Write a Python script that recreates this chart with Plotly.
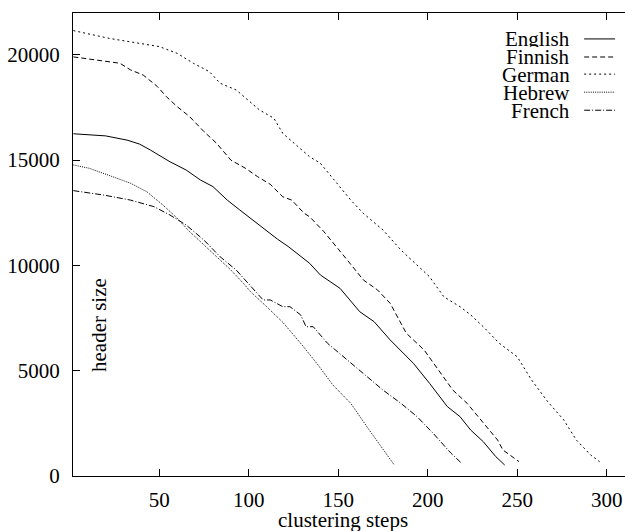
import plotly.graph_objects as go

# ---- data ----
english_x = [2, 20, 32, 39, 45, 56, 65, 73, 80, 88, 95, 101, 108, 116, 122, 127, 134, 140, 151, 162, 170, 179, 192, 201, 211, 218, 224, 231, 238, 243]
english_y = [16250, 16150, 15950, 15760, 15480, 14920, 14530, 14055, 13740, 13100, 12630, 12240, 11760, 11250, 10900, 10575, 10100, 9545, 8910, 7800, 7330, 6460, 5350, 4400, 3290, 2820, 2180, 1630, 920, 520]

finnish_x = [2, 28, 34, 41, 49, 54, 60, 67, 75, 82, 90, 98, 105, 112, 119, 124, 131, 134, 142, 149, 155, 164, 172, 179, 188, 198, 207, 214, 222, 231, 239, 242, 251]
finnish_y = [19900, 19600, 19280, 19040, 18490, 18010, 17540, 17060, 16350, 15800, 15000, 14620, 14210, 13850, 13260, 13100, 12470, 12310, 11600, 10890, 10260, 9310, 8830, 8200, 6780, 5980, 4880, 4080, 3450, 2500, 1710, 1235, 680]

german_x = [2, 22, 50, 60, 69, 78, 84, 93, 106, 114, 119, 129, 134, 140, 157, 164, 175, 185, 194, 201, 209, 218, 224, 231, 240, 250, 258, 267, 276, 283, 291, 296]
german_y = [21150, 20780, 20390, 20070, 19600, 19200, 18650, 18330, 17380, 16990, 16270, 15560, 15160, 14850, 13100, 12470, 11680, 10730, 10020, 9460, 8510, 8040, 7650, 7090, 6300, 5660, 4560, 3530, 2660, 1710, 1000, 680]

hebrew_x = [2, 11, 24, 34, 43, 52, 60, 67, 75, 82, 90, 97, 101, 110, 119, 129, 138, 147, 157, 166, 175, 181]
hebrew_y = [14770, 14610, 14210, 13900, 13500, 12870, 12240, 11600, 10970, 10410, 9780, 9150, 8750, 8040, 7300, 6300, 5350, 4320, 3450, 2340, 1235, 555]

french_x = [2, 19, 34, 47, 56, 65, 75, 84, 93, 101, 108, 112, 119, 123, 129, 132, 136, 144, 153, 164, 175, 185, 194, 203, 213, 219]
french_y = [13550, 13340, 13100, 12790, 12390, 11920, 11200, 10410, 9780, 9030, 8360, 8360, 8040, 8040, 7650, 7090, 7090, 6300, 5660, 4880, 4080, 3450, 2820, 2030, 1080, 600]

series_names = ["English", "Finnish", "German", "Hebrew", "French"]
x_ticks = [50, 100, 150, 200, 250, 300]
y_ticks = [0, 5000, 10000, 15000, 20000]

# ---- styles ----
dashes = ["solid", "5px,3px", "2px,3px", "1px,1.2px", "6px,2px,1px,2px"]
FONT = "Liberation Serif"
FS = 21

series = [(english_x, english_y), (finnish_x, finnish_y), (german_x, german_y),
          (hebrew_x, hebrew_y), (french_x, french_y)]

fig = go.Figure()
for (xs, ys), name, dash in zip(series, series_names, dashes):
    fig.add_trace(go.Scatter(x=xs, y=ys, mode="lines", name=name,
                             line=dict(color="black", width=1, dash=dash),
                             showlegend=False))

# manual gnuplot-style legend (text right-aligned, sample on the right)
row_y = [0.944, 0.905, 0.868, 0.829, 0.790]
annotations = []
shapes = []
for name, dash, yy in zip(series_names, dashes, row_y):
    annotations.append(dict(x=0.904, y=yy, xref="paper", yref="paper", text=name,
                            showarrow=False, xanchor="right", yanchor="middle", height=17,
                            font=dict(family=FONT, size=FS, color="black")))
    shapes.append(dict(type="line", xref="paper", yref="paper", x0=0.926, x1=0.982,
                       y0=yy, y1=yy, line=dict(color="black", width=1, dash=dash)))

annotations.append(dict(x=0.49, y=-0.095, xref="paper", yref="paper", text="clustering steps",
                        showarrow=False, xanchor="center", yanchor="middle",
                        font=dict(family=FONT, size=FS, color="black")))
annotations.append(dict(x=0.047, y=0.326, xref="paper", yref="paper", text="header size",
                        showarrow=False, xanchor="center", yanchor="middle", textangle=-90,
                        font=dict(family=FONT, size=FS, color="black")))

fig.update_layout(
    width=625, height=531,
    margin=dict(l=73, r=0, t=13, b=55),
    paper_bgcolor="white", plot_bgcolor="white",
    font=dict(family=FONT, size=FS, color="black"),
    annotations=annotations, shapes=shapes,
    showlegend=False,
)
fig.update_xaxes(range=[1.8, 310.2], tickvals=x_ticks, ticks="inside", ticklen=7,
                 tickcolor="black", showline=True, linecolor="black", linewidth=1,
                 mirror="ticks", showgrid=False, zeroline=False,
                 tickfont=dict(family=FONT, size=FS, color="black"), ticklabelstandoff=5)
fig.update_yaxes(range=[0, 21985], tickvals=y_ticks, ticktext=[str(v) for v in y_ticks],
                 ticks="inside", ticklen=7, tickcolor="black", showline=True,
                 linecolor="black", linewidth=1, mirror=False, showgrid=False, zeroline=False,
                 tickfont=dict(family=FONT, size=FS, color="black"), ticklabelstandoff=8)

fig.write_html("out.html", config={"displayModeBar": False},
               post_script="document.body.style.margin='0';document.body.style.overflow='hidden';")
